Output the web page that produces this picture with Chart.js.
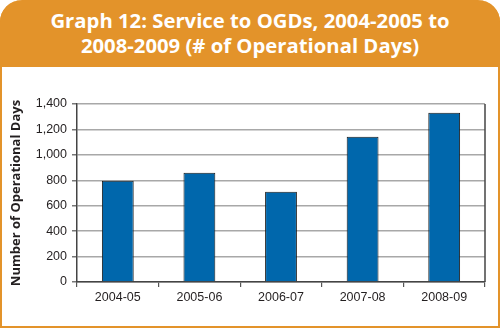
<!DOCTYPE html>
<html>
<head>
<meta charset="utf-8">
<script src="https://cdn.jsdelivr.net/npm/chart.js@4/dist/chart.umd.min.js"></script>
<style>
  html, body { margin: 0; padding: 0; background: #fff; }
  #wrap { position: relative; width: 500px; height: 328px; overflow: hidden; }
  #box {
    position: absolute; left: 0; top: 0; width: 500px; height: 328px;
    box-sizing: border-box; border: 2px solid #E3932A; border-top: none;
    border-radius: 22px 22px 0 0; background: #fff;
  }
  #head {
    position: absolute; left: 0; top: 0; width: 500px; height: 67px;
    background: #E3932A; border-radius: 22px 22px 0 0;
    color: #fff; font-family: "Open Sans", sans-serif; font-weight: 700;
    font-size: 20.3px; line-height: 25px; text-align: center;
    box-sizing: border-box; padding-top: 8px;
  }
  canvas { position: absolute; left: 0; top: 0; }
</style>
</head>
<body>
<div id="wrap">
  <div id="box"></div>
  <div id="head">Graph 12: Service to OGDs, 2004-2005 to<br>2008-2009 (# of Operational Days)</div>
  <canvas id="chart" width="500" height="328"></canvas>
</div>
<script>
const years = ['2004-05', '2005-06', '2006-07', '2007-08', '2008-09'];
const operationalDays = [797, 860, 710, 1142, 1332];
const yTicks = [0, 200, 400, 600, 800, 1000, 1200, 1400];

// right edge line of the plot frame
const frameRight = {
  id: 'frameRight',
  afterDraw(chart) {
    const { ctx, chartArea } = chart;
    ctx.save();
    ctx.strokeStyle = '#444';
    ctx.lineWidth = 1.5;
    ctx.beginPath();
    ctx.moveTo(chartArea.right, chartArea.top);
    ctx.lineTo(chartArea.right, chartArea.bottom);
    ctx.stroke();
    ctx.restore();
  }
};

new Chart(document.getElementById('chart'), {
  type: 'bar',
  data: {
    labels: years,
    datasets: [{
      data: operationalDays,
      backgroundColor: '#0067AC',
      borderColor: '#1a1a1a',
      borderWidth: 1,
      categoryPercentage: 1,
      barPercentage: 0.39,
    }],
  },
  options: {
    responsive: false,
    animation: false,
    layout: { padding: { left: 8, top: 104, right: 15, bottom: 16 } },
    plugins: { legend: { display: false }, tooltip: { enabled: false } },
    scales: {
      x: {
        grid: { offset: true, drawOnChartArea: false, drawTicks: true, tickLength: 5, color: '#555', lineWidth: 1.2 },
        border: { color: '#444', width: 1.5 },
        ticks: { padding: 3, color: '#231f20', font: { family: 'Liberation Sans', size: 12.5 } },
        afterFit: s => { s.height = 30; },
      },
      y: {
        min: 0, max: 1400,
        afterBuildTicks: s => { s.ticks = yTicks.map(v => ({ value: v })); },
        grid: { color: '#a8a8a8', lineWidth: 1.5, tickLength: 5, tickColor: '#777' },
        border: { color: '#444', width: 1.5 },
        ticks: {
          padding: 5, color: '#231f20', font: { family: 'Liberation Sans', size: 12.5 },
          callback: v => v.toLocaleString('en-US'),
        },
        title: {
          display: true, text: 'Number of Operational Days', color: '#231f20',
          font: { family: 'Open Sans', size: 13, weight: 'bold' }, padding: { top: 0, bottom: 0 },
        },
        afterFit: s => { s.width = 69; },
      },
    },
  },
  plugins: [frameRight],
});
</script>
</body>
</html>
